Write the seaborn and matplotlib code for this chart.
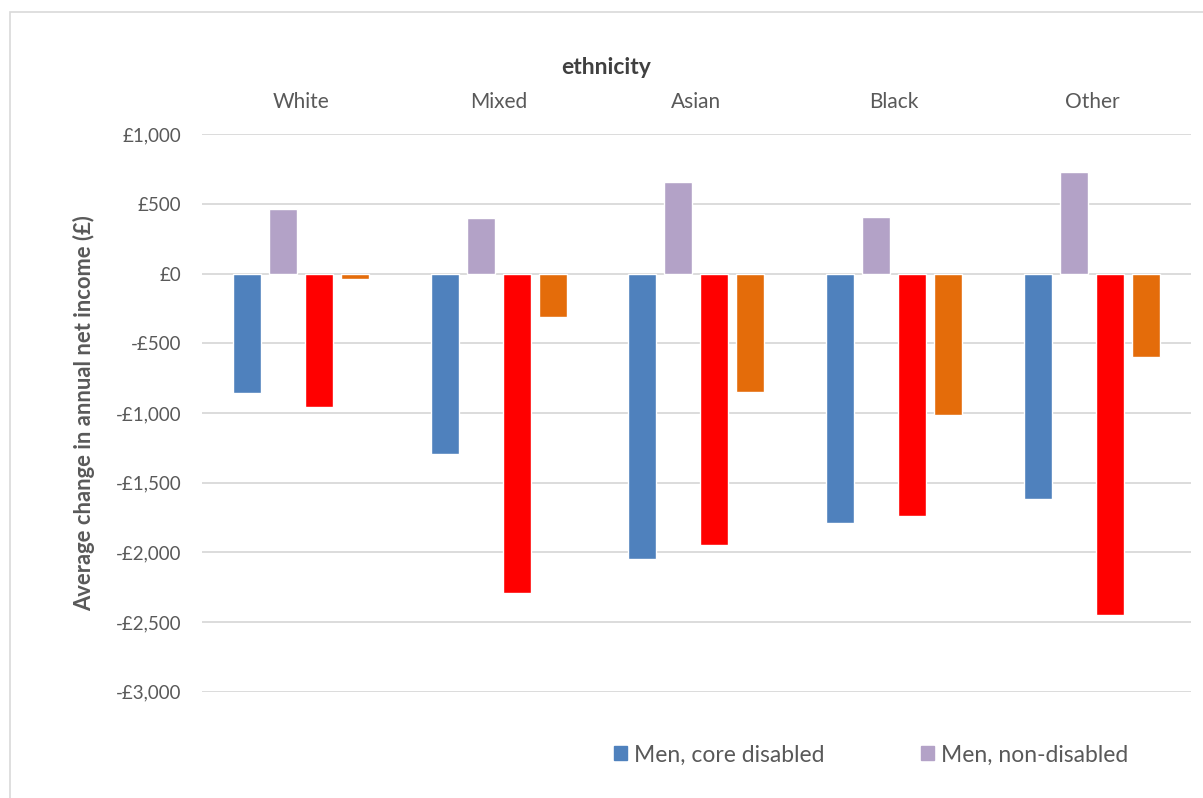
import matplotlib
matplotlib.use("Agg")
import matplotlib.pyplot as plt
import matplotlib.patches as mpatches
import pandas as pd
import seaborn as sns

# values (GBP per year)
ethnicities = ["White", "Mixed", "Asian", "Black", "Other"]
groups = ["Men, core disabled", "Men, non-disabled",
          "Women, core disabled", "Women, non-disabled"]
men_core_disabled = [-858, -1293, -2045, -1789, -1620]
men_non_disabled = [462, 395, 653, 403, 725]
women_core_disabled = [-956, -2289, -1950, -1737, -2448]
women_non_disabled = [-42, -312, -847, -1014, -598]
colors = ["#4F81BD", "#B3A2C7", "#FF0000", "#E46C0A"]

rows = []
for g, vals in zip(groups, [men_core_disabled, men_non_disabled,
                            women_core_disabled, women_non_disabled]):
    for eth, v in zip(ethnicities, vals):
        rows.append({"ethnicity": eth, "group": g, "value": v})
df = pd.DataFrame(rows)

sns.set_style("white")
plt.rcParams["font.family"] = ["Lato", "DejaVu Sans"]
grey = "#595959"

fig = plt.figure(figsize=(12.03, 7.98), dpi=100)
ax = fig.add_axes([0.1679, 0.133, 0.8221, 0.699])

sns.barplot(data=df, x="ethnicity", y="value", hue="group", order=ethnicities,
            hue_order=groups, palette=colors, width=0.728, gap=0.222,
            saturation=1, ax=ax, legend=False, zorder=3)

ax.set_xlim(-0.5, len(ethnicities) - 0.5)
ax.set_ylim(-3000, 1000)
ax.set_yticks(range(-3000, 1001, 500))
ax.set_yticklabels([("-£{:,}" if t < 0 else "£{:,}").format(abs(t))
                    for t in range(-3000, 1001, 500)])
ax.yaxis.grid(True, color="#D9D9D9", linewidth=1.3, zorder=0)
ax.set_axisbelow(True)
for s in ax.spines.values():
    s.set_visible(False)

ax.xaxis.tick_top()
ax.xaxis.set_label_position("top")
ax.tick_params(axis="x", length=0, pad=16, labelsize=15, labelcolor=grey)
ax.tick_params(axis="y", length=0, pad=15, labelsize=13.5, labelcolor=grey)
ax.set_xlabel("ethnicity", fontsize=16.5, fontweight="bold", color="#404040")
ax.xaxis.set_label_coords((606 - 202) / 989, 1 + (134 - 67) / 558)
ax.xaxis.label.set_verticalalignment("center")
ax.set_ylabel("Average change in annual net income (£)", fontsize=15.8,
              fontweight="bold", color=grey)
ax.yaxis.set_label_coords(-(202 - 95) / 989, 0.5)

handles = [mpatches.Patch(color=c, label=g) for c, g in zip(colors[:2], groups[:2])]
fig.legend(handles=handles, loc="center", bbox_to_anchor=(0.724, 0.054), ncol=2,
           frameon=False, fontsize=16.5, handlelength=0.58, handleheight=0.58,
           handletextpad=0.3, columnspacing=4.2, labelcolor=grey)

fig.patches.append(mpatches.Rectangle((10 / 1203, -0.05), 1.2, 1 - 12 / 798 + 0.05,
                                      transform=fig.transFigure, fill=False,
                                      edgecolor="#D9D9D9", linewidth=1.2))

fig.savefig("out.png", dpi=100)
